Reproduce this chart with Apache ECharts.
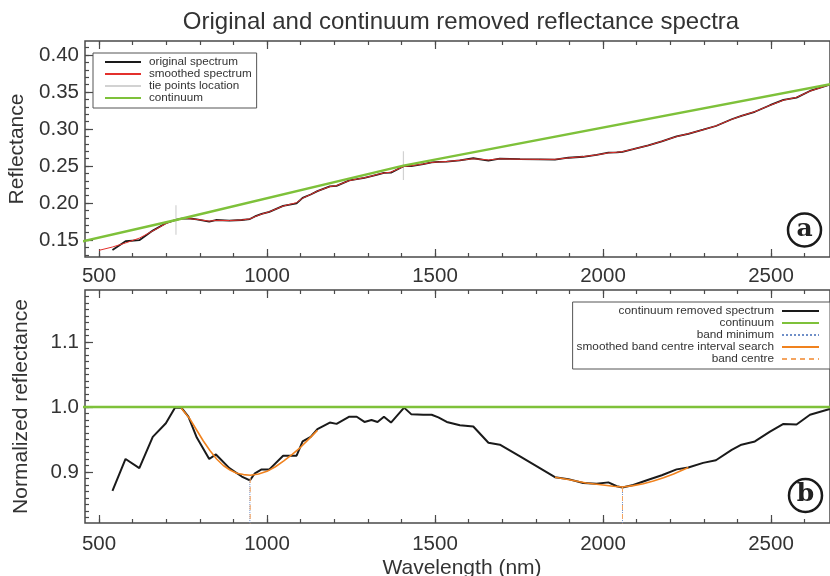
<!DOCTYPE html>
<html><head><meta charset="utf-8">
<script src="https://cdn.jsdelivr.net/npm/echarts@6/dist/echarts.min.js"></script>
<style>html,body{margin:0;padding:0;background:#fff}#c{width:830px;height:576px}</style>
</head><body><div id="c"></div>
<script>
// ---------- data ----------
const wavelength = [540,579,620,660,699,726,745,766,791,828,848,888,925,949,964,984,1007,1048,1088,1106,1130,1150,1187,1207,1245,1267,1290,1311,1329,1348,1369,1408,1429,1465,1490,1510,1535,1574,1614,1659,1693,1753,1812,1857,1897,1941,1981,2016,2041,2058,2090,2135,2175,2219,2254,2298,2336,2383,2412,2452,2497,2537,2576,2616,2675];
const originalSpectrum = [0.1366,0.1483,0.1497,0.1627,0.1726,0.1768,0.1790,0.1794,0.1780,0.1748,0.1770,0.1762,0.1770,0.1783,0.1818,0.1852,0.1880,0.1962,0.1996,0.2070,0.2115,0.2160,0.2225,0.2232,0.2305,0.2322,0.2340,0.2362,0.2385,0.2408,0.2410,0.2501,0.2499,0.2527,0.2549,0.2555,0.2558,0.2577,0.2605,0.2574,0.2600,0.2592,0.2590,0.2587,0.2612,0.2625,0.2650,0.2680,0.2684,0.2692,0.2727,0.2778,0.2834,0.2900,0.2936,0.2991,0.3041,0.3132,0.3178,0.3233,0.3322,0.3393,0.3424,0.3515,0.3602];
const smoothedWavelength = [500,540,579,620,660,699,726,745,766,791,828,848,888,925,949,964,984,1007,1048,1088,1106,1130,1150,1187,1207,1245,1267,1290,1311,1329,1348,1369,1408,1429,1465,1490,1510,1535,1574,1614,1659,1693,1753,1812,1857,1897,1941,1981,2016,2041,2058,2090,2135,2175,2219,2254,2298,2336,2383,2412,2452,2497,2537,2576,2616,2675];
const smoothedSpectrum = [0.1360,0.1405,0.1460,0.1525,0.1622,0.1722,0.1768,0.1788,0.1790,0.1778,0.1755,0.1765,0.1763,0.1770,0.1785,0.1815,0.1850,0.1882,0.1958,0.2005,0.2065,0.2115,0.2160,0.2222,0.2235,0.2303,0.2322,0.2342,0.2363,0.2387,0.2405,0.2418,0.2495,0.2503,0.2527,0.2548,0.2555,0.2560,0.2578,0.2598,0.2582,0.2597,0.2592,0.2590,0.2590,0.2610,0.2627,0.2650,0.2678,0.2686,0.2694,0.2728,0.2778,0.2834,0.2898,0.2937,0.2990,0.3042,0.3130,0.3178,0.3235,0.3320,0.3390,0.3428,0.3512,0.3600];
const continuumWavelength = [440,729,1406,2690];
const continuumValue = [0.1471,0.1770,0.2505,0.3618];
const tiePointWavelength = [729,1406];
const tieLineLow = [0.157,0.231];
const tieLineHigh = [0.197,0.270];
const continuumRemoved = [0.871,0.920,0.906,0.954,0.975,0.999,0.999,0.985,0.953,0.920,0.927,0.906,0.893,0.887,0.898,0.904,0.904,0.925,0.925,0.947,0.954,0.966,0.976,0.974,0.985,0.985,0.977,0.980,0.977,0.985,0.976,0.999,0.989,0.988,0.988,0.984,0.977,0.972,0.970,0.945,0.942,0.924,0.906,0.892,0.889,0.883,0.882,0.884,0.878,0.876,0.880,0.888,0.895,0.904,0.907,0.914,0.918,0.934,0.942,0.947,0.962,0.974,0.973,0.988,0.997];
const normalizedContinuum = [1,1,1,1];
const band1Wavelength = [745,770,790,810,830,850,870,890,910,930,950,975,1000,1025,1050,1075,1100,1125,1150];
const band1Smoothed = [0.998,0.982,0.965,0.948,0.933,0.920,0.910,0.903,0.898,0.896,0.895,0.897,0.901,0.908,0.917,0.927,0.938,0.951,0.964];
const band2Wavelength = [1857,1900,1950,2000,2030,2058,2090,2120,2150,2180,2210,2254];
const band2Smoothed = [0.892,0.888,0.883,0.880,0.878,0.877,0.879,0.882,0.886,0.891,0.897,0.907];
const bandMinimumWavelength = [949,2058];
const bandMinimumValue = [0.887,0.876];
const bandCentreWavelength = [950,2058];
const bandCentreValue = [0.895,0.877];
const xMajorTicks = [500,1000,1500,2000,2500];
const xMinorTicks = [500,600,700,800,900,1000,1100,1200,1300,1400,1500,1600,1700,1800,1900,2000,2100,2200,2300,2400,2500,2600];
const topYMajorTicks = [0.15,0.20,0.25,0.30,0.35,0.40];
const topYMinorTicks = [0.13,0.14,0.15,0.16,0.17,0.18,0.19,0.20,0.21,0.22,0.23,0.24,0.25,0.26,0.27,0.28,0.29,0.30,0.31,0.32,0.33,0.34,0.35,0.36,0.37,0.38,0.39,0.40,0.41];
const botYMajorTicks = [0.9,1.0,1.1];
const botYMinorTicks = [0.83,0.84,0.85,0.86,0.87,0.88,0.89,0.90,0.91,0.92,0.93,0.94,0.95,0.96,0.97,0.98,0.99,1.00,1.01,1.02,1.03,1.04,1.05,1.06,1.07,1.08,1.09,1.10,1.11,1.12,1.13,1.14,1.15,1.16,1.17];

// ---------- styling / layout ----------
const FONT = '"Liberation Sans", Arial, Helvetica, sans-serif';
const AXC = '#4a4a4a';
const TXT = '#333';
const X_MIN = 458.3, X_MAX = 2675.6;
const zip = (xs, ys) => xs.map((x, i) => [x, ys[i]]);

function xAx(gridIndex, position, ticks, len, labels, extra) {
  return Object.assign({
    type: 'value', gridIndex, position, min: X_MIN, max: X_MAX,
    axisLine: {show: false},
    axisTick: {show: true, inside: true, length: len, customValues: ticks, lineStyle: {color: AXC, width: 1.2}},
    axisLabel: labels ? {show: true, customValues: xMajorTicks, fontSize: 20.5, color: TXT, fontFamily: FONT, margin: labels,
      formatter: v => String(Math.round(v))} : {show: false},
    splitLine: {show: false}
  }, extra || {});
}
function yAx(gridIndex, min, max, ticks, len, labelTicks, digits, extra) {
  return Object.assign({
    type: 'value', gridIndex, position: 'left', min, max,
    axisLine: {show: false},
    axisTick: {show: true, inside: true, length: len, customValues: ticks, lineStyle: {color: AXC, width: 1.2}},
    axisLabel: labelTicks ? {show: true, customValues: labelTicks, fontSize: 20.5, color: TXT, fontFamily: FONT, margin: 6,
      formatter: v => Number(v).toFixed(digits)} : {show: false},
    splitLine: {show: false}
  }, extra || {});
}

const series = [];
function line(name, xi, yi, data, color, width, type, z) {
  series.push({name, type: 'line', xAxisIndex: xi, yAxisIndex: yi, data, symbol: 'none', showSymbol: false,
    clip: true, silent: true, z: z || 2, animation: false,
    lineStyle: {color, width, type: type || 'solid'}, itemStyle: {color}});
}
// top panel
tiePointWavelength.forEach((w, i) => line('tie points location', 0, 0, [[w, tieLineLow[i]], [w, tieLineHigh[i]]], '#d2d2d2', 1.2, 'solid', 1));
line('original spectrum', 0, 0, zip(wavelength, originalSpectrum), '#1a1a1a', 1.8, 'solid', 2);
line('smoothed spectrum', 0, 0, zip(smoothedWavelength, smoothedSpectrum), '#e3302c', 1, 'solid', 3);
line('continuum', 0, 0, zip(continuumWavelength, continuumValue), '#7ec13a', 2.5, 'solid', 4);
// bottom panel
line('continuum removed spectrum', 4, 2, zip(wavelength, continuumRemoved), '#1a1a1a', 2, 'solid', 2);
line('continuum', 4, 2, zip(continuumWavelength, normalizedContinuum), '#7ec13a', 2.5, 'solid', 3);
bandMinimumWavelength.forEach((w, i) => line('band minimum', 4, 2, [[w, 0.80], [w, bandMinimumValue[i]]], '#6f8fc8', 1, 'dotted', 4));
line('smoothed band centre interval search', 4, 2, zip(band1Wavelength, band1Smoothed), '#f0821e', 1.6, 'solid', 5);
line('smoothed band centre interval search', 4, 2, zip(band2Wavelength, band2Smoothed), '#f0821e', 1.6, 'solid', 5);
bandCentreWavelength.forEach((w, i) => line('band centre', 4, 2, [[w, 0.80], [w, bandCentreValue[i]]], '#f4a460', 1, [5, 4], 5));

const chart = echarts.init(document.getElementById('c'), null, {renderer: 'canvas'});
chart.setOption({
  animation: false,
  backgroundColor: '#fff',
  textStyle: {fontFamily: FONT},
  grid: [
    {left: 85, top: 41, width: 745, height: 216, show: true, borderColor: AXC, borderWidth: 1.5, backgroundColor: 'transparent',
      containLabel: false, outerBoundsMode: 'none'},
    {left: 85, top: 290, width: 745, height: 233, show: true, borderColor: AXC, borderWidth: 1.5, backgroundColor: 'transparent',
      containLabel: false, outerBoundsMode: 'none'}
  ],
  xAxis: [
    xAx(0, 'bottom', xMajorTicks, 8, 9),
    xAx(0, 'bottom', xMinorTicks, 4, 0),
    xAx(0, 'top', xMajorTicks, 8, 0),
    xAx(0, 'top', xMinorTicks, 4, 0),
    xAx(1, 'bottom', xMajorTicks, 8, 11, {name: 'Wavelength (nm)', nameLocation: 'middle', nameGap: 35,
      nameTextStyle: {fontSize: 21, color: TXT, fontFamily: FONT, padding: [0, 0, 0, 9]}}),
    xAx(1, 'bottom', xMinorTicks, 4, 0),
    xAx(1, 'top', xMajorTicks, 8, 0),
    xAx(1, 'top', xMinorTicks, 4, 0)
  ],
  yAxis: [
    yAx(0, 0.127, 0.419, topYMajorTicks, 8, topYMajorTicks, 2, {name: 'Reflectance', nameLocation: 'middle', nameGap: 53,
      nameTextStyle: {fontSize: 21, color: TXT, fontFamily: FONT}}),
    yAx(0, 0.127, 0.419, topYMinorTicks, 4, null, 2),
    yAx(1, 0.8215, 1.18, botYMajorTicks, 8, botYMajorTicks, 1, {name: 'Normalized reflectance', nameLocation: 'middle', nameGap: 53,
      nameTextStyle: {fontSize: 21, color: TXT, fontFamily: FONT}}),
    yAx(1, 0.8215, 1.18, botYMinorTicks, 4, null, 1)
  ],
  legend: [
    {orient: 'vertical', left: 93, top: 53, itemWidth: 36, itemHeight: 8, itemGap: 0,
      padding: [3, 5, 4, 11], borderColor: '#555', borderWidth: 1, backgroundColor: '#fff',
      itemStyle: {opacity: 0},
      textStyle: {fontSize: 11.7, color: TXT, fontFamily: FONT, lineHeight: 11.3, padding: [0, 0, 0, 3]},
      selectedMode: false,
      data: ['original spectrum', 'smoothed spectrum', 'tie points location', 'continuum']},
    {orient: 'vertical', right: 0, top: 302, align: 'right', itemWidth: 37, itemHeight: 8, itemGap: 0,
      padding: [3, 10, 4, 4], borderColor: '#555', borderWidth: 1, backgroundColor: '#fff',
      itemStyle: {opacity: 0},
      textStyle: {fontSize: 11.8, color: TXT, fontFamily: FONT, lineHeight: 11.8, padding: [0, 3, 0, 0]},
      selectedMode: false,
      data: ['continuum removed spectrum', 'continuum', 'band minimum', 'smoothed band centre interval search', 'band centre']}
  ],
  graphic: [
    {type: 'text', x: 461, y: 22, z: 10, style: {text: 'Original and continuum removed reflectance spectra',
      font: '24px ' + FONT, fill: TXT, align: 'center', verticalAlign: 'middle', textAlign: 'center', textVerticalAlign: 'middle'}},
    {type: 'circle', z: 10, shape: {cx: 804.5, cy: 230, r: 16.5}, style: {fill: '#fff', stroke: '#1a1a1a', lineWidth: 2.5}},
    {type: 'text', x: 804.5, y: 229, z: 11, style: {text: 'a', font: 'bold 25px "DejaVu Serif", serif', fill: '#222',
      align: 'center', verticalAlign: 'middle', textAlign: 'center', textVerticalAlign: 'middle'}},
    {type: 'circle', z: 10, shape: {cx: 805.5, cy: 495.5, r: 16.5}, style: {fill: '#fff', stroke: '#1a1a1a', lineWidth: 2.5}},
    {type: 'text', x: 805.5, y: 494, z: 11, style: {text: 'b', font: 'bold 25px "DejaVu Serif", serif', fill: '#222',
      align: 'center', verticalAlign: 'middle', textAlign: 'center', textVerticalAlign: 'middle'}}
  ],
  series
});
</script>
</body></html>
